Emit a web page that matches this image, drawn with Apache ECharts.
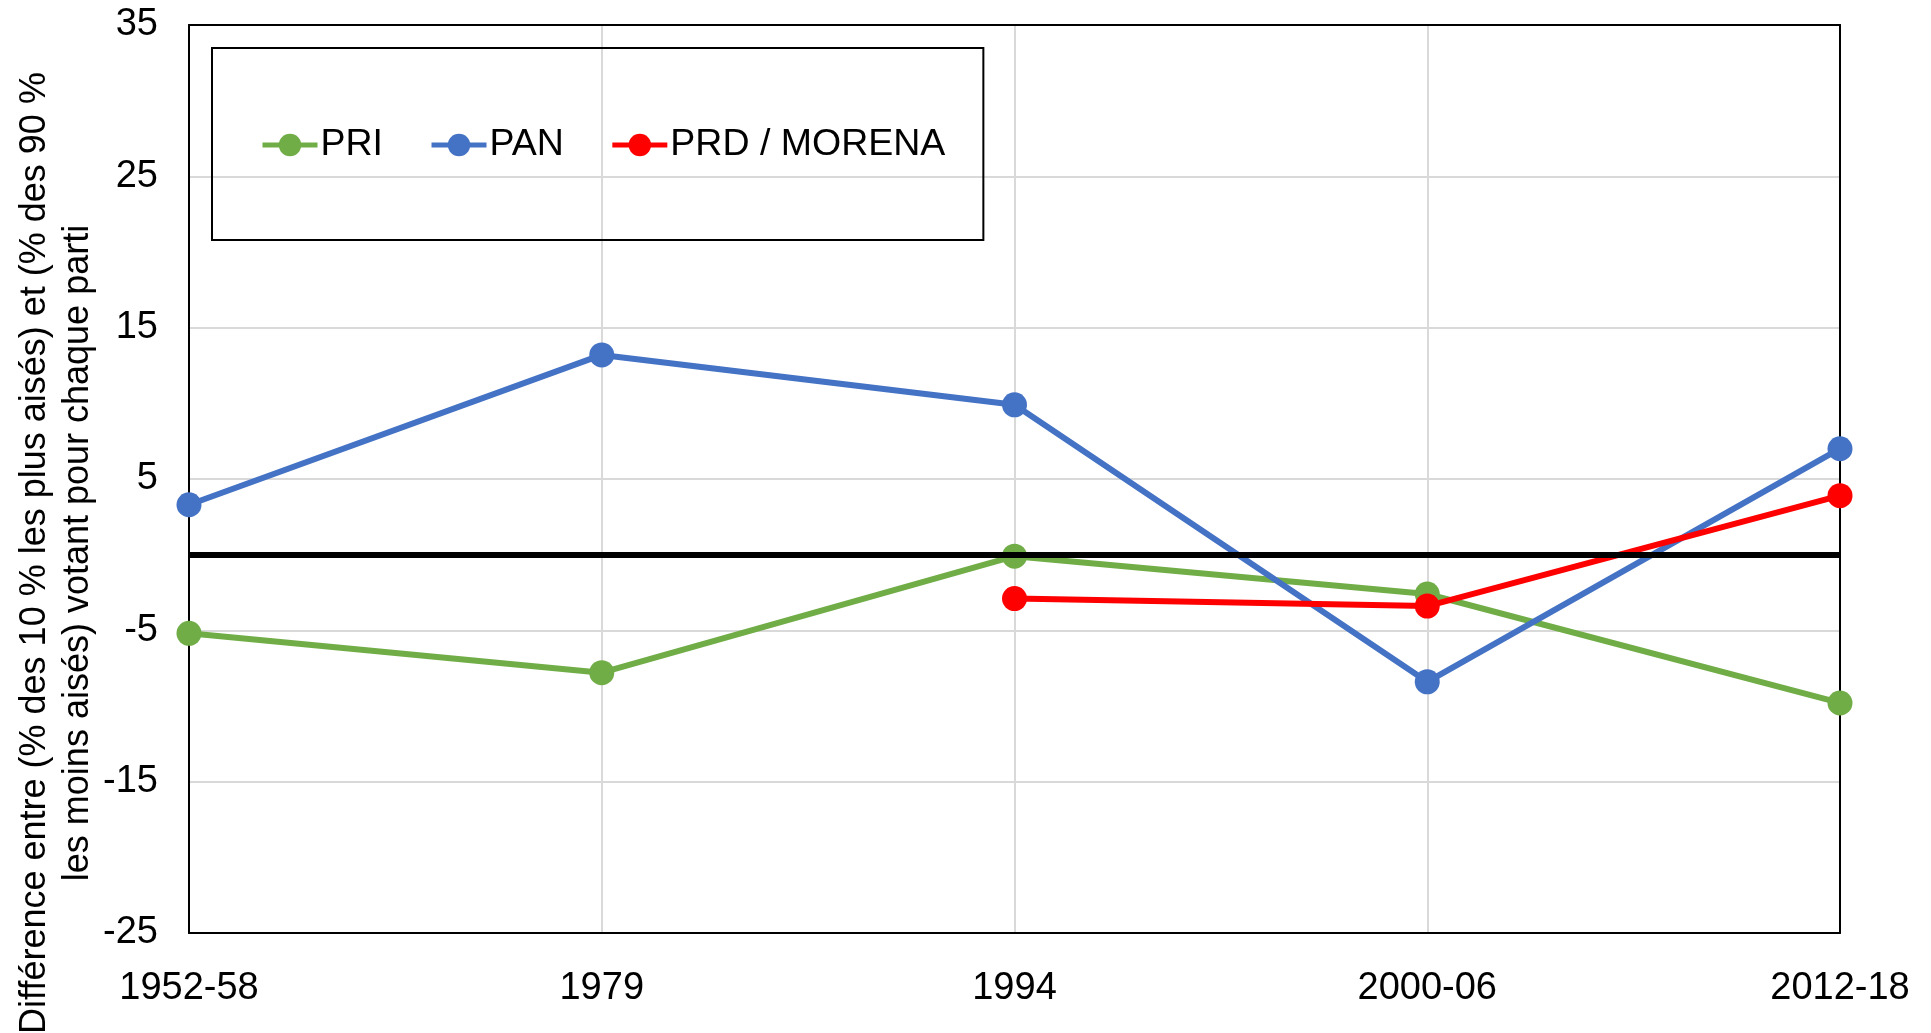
<!DOCTYPE html>
<html>
<head>
<meta charset="utf-8">
<script src="https://cdn.jsdelivr.net/npm/echarts@6/dist/echarts.min.js"></script>
<style>
html,body{margin:0;padding:0;background:#fff;}
#chart{width:1931px;height:1033px;}
</style>
</head>
<body>
<div id="chart"></div>
<script>
// categories / données
var periodes = ['1952-58', '1979', '1994', '2000-06', '2012-18'];
var priData = [-5.2, -7.8, -0.1, -2.6, -9.8];
var panData = [3.3, 13.2, 9.9, -8.4, 7.0];
var prdData = [null, null, -2.9, -3.4, 3.9];
var yTicks = {min: -25, max: 35, interval: 10};
var yTitre = 'Différence entre (% des 10 % les plus aisés) et (% des 90 %\nles moins aisés) votant pour chaque parti';

var police = '"Liberation Sans", Arial, sans-serif';

function serie(nom, data, couleur) {
    return {
        name: nom,
        type: 'line',
        xAxisIndex: 0,
        yAxisIndex: 0,
        data: data,
        symbol: 'circle',
        symbolSize: 25,
        clip: false,
        connectNulls: false,
        lineStyle: {color: couleur, width: 6},
        itemStyle: {color: couleur},
        emphasis: {disabled: true}
    };
}

var series = [
    serie('PRI', priData, '#70AD47'),
    serie('PAN', panData, '#4472C4'),
    serie('PRD / MORENA', prdData, '#FF0000')
];
// ligne du zéro
series[0].markLine = {
    silent: true,
    symbol: 'none',
    label: {show: false},
    lineStyle: {color: '#000', width: 6, type: 'solid'},
    data: [{yAxis: 0}]
};

// axes secondaires juste pour le cadre (haut / droite)
var cadre = {show: true, onZero: false, lineStyle: {color: '#000', width: 2}};

var option = {
    animation: false,
    backgroundColor: '#fff',
    textStyle: {fontFamily: police},
    grid: {left: 189, right: 91, top: 25, bottom: 100},
    legend: {
        left: 212, top: 48,
        padding: [78, 38, 76, 48],
        borderColor: '#000', borderWidth: 2,
        itemWidth: 55, itemHeight: 28, itemGap: 46,
        lineStyle: {width: 5},
        textStyle: {fontSize: 37.5, color: '#000', fontFamily: police, padding: [0, 0, 0, -2]},
        data: ['PRI', 'PAN', 'PRD / MORENA']
    },
    xAxis: [{
        type: 'category',
        data: periodes,
        boundaryGap: false,
        axisLine: cadre,
        axisTick: {show: false},
        axisLabel: {fontSize: 38, color: '#000', margin: 37, fontFamily: police},
        splitLine: {show: true, lineStyle: {color: '#d9d9d9', width: 2}}
    }, {
        type: 'category',
        data: periodes,
        boundaryGap: false,
        position: 'top',
        axisLine: cadre,
        axisTick: {show: false},
        axisLabel: {show: false},
        splitLine: {show: false}
    }],
    yAxis: [{
        type: 'value',
        min: yTicks.min, max: yTicks.max, interval: yTicks.interval,
        axisLine: cadre,
        axisTick: {show: false},
        axisLabel: {fontSize: 38, color: '#000', margin: 31, fontFamily: police},
        splitLine: {show: true, lineStyle: {color: '#d9d9d9', width: 2}}
    }, {
        type: 'value',
        position: 'right',
        min: yTicks.min, max: yTicks.max, interval: yTicks.interval,
        axisLine: cadre,
        axisTick: {show: false},
        axisLabel: {show: false},
        splitLine: {show: false}
    }],
    graphic: [{
        type: 'text',
        x: 57, y: 553,
        rotation: Math.PI / 2,
        style: {
            text: yTitre,
            fontSize: 36,
            lineHeight: 43,
            fill: '#000',
            fontFamily: police,
            align: 'center',
            verticalAlign: 'middle'
        }
    }],
    series: series
};

var myChart = echarts.init(document.getElementById('chart'));
myChart.setOption(option);
</script>
</body>
</html>
